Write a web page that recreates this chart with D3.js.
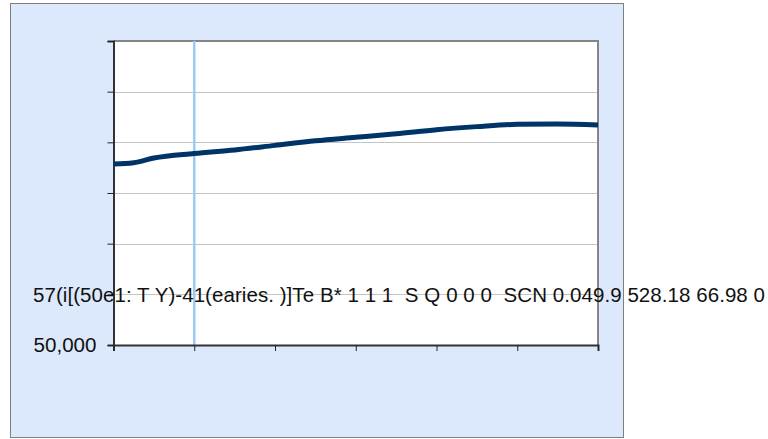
<!DOCTYPE html>
<html>
<head>
<meta charset="utf-8">
<script src="https://cdn.jsdelivr.net/npm/d3@7.9.0/dist/d3.min.js"></script>
<style>
  body { margin: 0; background: #fff; }
  svg text { font-family: "Liberation Sans", Arial, sans-serif; fill: #111; }
</style>
</head>
<body>
<div id="chart"></div>
<script>
// data
const xPos = [0, 0.25, 0.5, 1, 1.5, 2, 2.5, 3, 3.5, 4, 4.5, 5, 5.5, 6];
const values = [85700, 85950, 86900, 87800, 88500, 89400, 90300, 91000, 91700, 92500, 93100, 93550, 93600, 93400];
const yTicks = [50000, 60000, 70000, 80000, 90000, 100000, 110000];
const yTickLabels = ['50,000', '', '', '', '', '', ''];
const xTicks = [0, 1, 2, 3, 4, 5, 6];
const markerX = 1;
const strayText = '57(i[(50e1: T Y)-41(earies. )]Te B* 1 1 1  S Q 0 0 0  SCN 0.049.9 528.18 66.98 0';

const width = 768, height = 439;
const plot = { left: 113.5, right: 598, top: 41, bottom: 345 };

const svg = d3.select('#chart').append('svg')
  .attr('width', width)
  .attr('height', height);

// outer chart box
svg.append('rect')
  .attr('x', 10.5).attr('y', 3.5)
  .attr('width', 613).attr('height', 434)
  .attr('fill', '#dce9fc')
  .attr('stroke', '#7f7f7f');

const x = d3.scaleLinear().domain([0, 6]).range([plot.left, plot.right]);
const y = d3.scaleLinear().domain([50000, 110000]).range([plot.bottom, plot.top]);

// plot area
svg.append('rect')
  .attr('x', plot.left).attr('y', plot.top)
  .attr('width', plot.right - plot.left).attr('height', plot.bottom - plot.top)
  .attr('fill', '#fff');

// gridlines
svg.append('g')
  .selectAll('line')
  .data(yTicks.slice(1, -1))
  .join('line')
  .attr('x1', plot.left).attr('x2', plot.right)
  .attr('y1', d => Math.round(y(d)) + 0.5).attr('y2', d => Math.round(y(d)) + 0.5)
  .attr('stroke', '#c4c4c4');

// top and right border
svg.append('path')
  .attr('d', `M${plot.left},${plot.top} H${plot.right} V${plot.bottom}`)
  .attr('fill', 'none')
  .attr('stroke', '#858585')
  .attr('stroke-width', 2);

// vertical marker line
svg.append('line')
  .attr('x1', x(markerX)).attr('x2', x(markerX))
  .attr('y1', plot.top).attr('y2', plot.bottom)
  .attr('stroke', '#9cc9f7')
  .attr('stroke-width', 2.5);

// y axis
const yAxis = svg.append('g')
  .attr('transform', `translate(${plot.left},0)`)
  .call(d3.axisLeft(y).tickValues(yTicks).tickSize(6).tickPadding(11)
    .tickFormat((d, i) => yTickLabels[i]))
  .attr('font-size', 20.5)
  .attr('font-family', '"Liberation Sans", Arial, sans-serif');
yAxis.select('.domain').attr('stroke', '#333').attr('stroke-width', 2);
yAxis.selectAll('.tick line').attr('stroke', '#222');
yAxis.selectAll('.tick text')
  .style('font-size', '20.5px')
  .attr('fill', '#111')
  .filter(function () { return this.textContent !== ''; })
  .attr('textLength', 63)
  .attr('lengthAdjust', 'spacingAndGlyphs');

// x axis
const xAxis = svg.append('g')
  .attr('transform', `translate(0,${plot.bottom})`)
  .call(d3.axisBottom(x).tickValues(xTicks).tickSize(6).tickFormat(''));
xAxis.select('.domain').attr('stroke', '#333').attr('stroke-width', 2);
xAxis.selectAll('.tick line').attr('stroke', '#222');

// series line
const line = d3.line()
  .x((d, i) => x(xPos[i]))
  .y(d => y(d))
  .curve(d3.curveMonotoneX);

svg.append('path')
  .datum(values)
  .attr('d', line)
  .attr('fill', 'none')
  .attr('stroke', '#003366')
  .attr('stroke-width', 5);

// stray text overlay
svg.append('text')
  .attr('x', 33).attr('y', 302)
  .attr('xml:space', 'preserve')
  .attr('textLength', 732)
  .attr('lengthAdjust', 'spacing')
  .style('white-space', 'pre')
  .style('font-size', '20.5px')
  .text(strayText);
</script>
</body>
</html>
